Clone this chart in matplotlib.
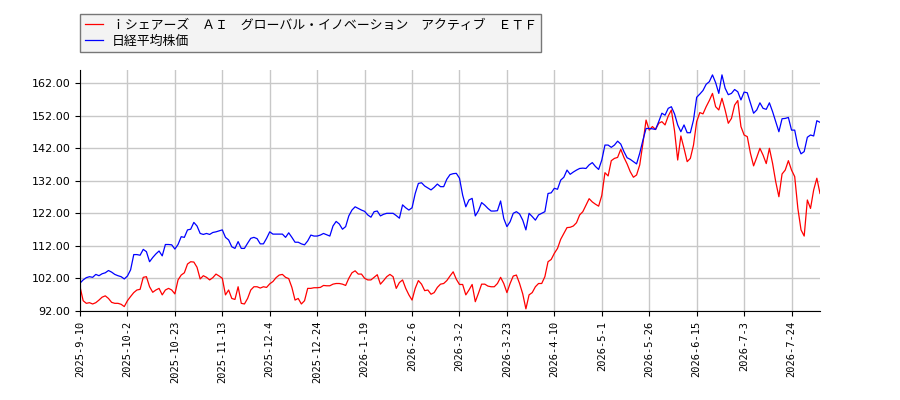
import matplotlib
matplotlib.use("Agg")
import matplotlib.pyplot as plt
from matplotlib.ticker import FormatStrFormatter

plt.rcParams['font.family'] = ['DejaVu Sans', 'Noto Sans CJK JP']

etf_name = "ｉシェアーズ　ＡＩ　グローバル・イノベーション　アクティブ　ＥＴＦ"
nikkei_name = "日経平均株価"

tick_labels = ["2025-9-10", "2025-10-2", "2025-10-23", "2025-11-13", "2025-12-4",
               "2025-12-24", "2026-1-19", "2026-2-6", "2026-3-2", "2026-3-23",
               "2026-4-10", "2026-5-1", "2026-5-26", "2026-6-15", "2026-7-3",
               "2026-7-24"]
tick_step = 15

# ETF (red), rebased
etf = [99.4, 95.1, 94.3, 94.5, 94.1, 94.5, 95.3, 96.2, 96.6, 95.8,
       94.6, 94.3, 94.3, 94.0, 93.3, 95.1, 96.4, 97.6, 98.4, 98.6,
       102.3, 102.5, 99.4, 97.7, 98.4, 98.9, 96.9, 98.4, 98.9, 98.4,
       97.2, 101.5, 103.0, 103.7, 106.4, 107.1, 107.0, 105.4, 101.8, 102.8,
       102.3, 101.5, 102.2, 103.3, 102.7, 102.0, 96.9, 98.4, 95.8, 95.5,
       99.4, 94.3, 94.1, 95.8, 98.4, 99.4, 99.4, 99.0, 99.4, 99.2,
       100.3, 101.0, 102.2, 103.0, 103.2, 102.3, 101.9, 99.2, 95.3, 95.8,
       94.1, 95.1, 98.9, 98.9, 99.1, 99.1, 99.2, 99.8, 99.7, 99.7,
       100.2, 100.4, 100.4, 100.2, 99.8, 102.0, 103.7, 104.3, 103.3, 103.3,
       102.0, 101.5, 101.5, 102.3, 103.1, 100.2, 101.3, 102.5, 103.2, 102.5,
       98.9, 100.7, 101.5, 98.9, 96.9, 95.3, 98.9, 101.3, 100.2, 98.2,
       98.4, 97.1, 97.6, 99.2, 100.2, 100.4, 101.3, 102.7, 104.0, 101.7,
       100.1, 100.1, 96.9, 98.4, 100.1, 94.8, 97.4, 100.2, 100.2, 99.6,
       99.4, 99.4, 100.4, 102.3, 100.4, 97.6, 100.4, 102.7, 103.0, 100.4,
       97.2, 92.6, 96.9, 97.6, 99.4, 100.4, 100.4, 102.5, 107.1, 107.8,
       109.7, 111.2, 114.0, 115.8, 117.6, 117.7, 118.1, 119.1, 121.5, 122.5,
       124.5, 126.5, 125.5, 124.8, 124.2, 127.5, 134.5, 133.5, 138.2, 138.9,
       139.2, 141.7, 139.2, 137.2, 134.8, 133.1, 133.8, 136.9, 143.5, 150.7,
       147.6, 148.7, 147.8, 149.7, 150.2, 149.2, 151.9, 153.8, 147.4, 138.4,
       145.8, 142.0, 137.9, 138.9, 143.0, 150.2, 153.0, 152.6, 154.8, 156.7,
       158.9, 154.8, 153.8, 157.4, 153.8, 149.7, 151.2, 155.3, 156.7, 148.7,
       146.1, 145.6, 140.5, 136.6, 139.2, 142.0, 139.9, 137.3, 142.0, 137.4,
       131.7, 127.1, 134.1, 135.3, 138.2, 135.3, 133.3, 123.5, 116.9, 115.0,
       126.1, 123.5, 129.2, 132.8, 128.1]

# Nikkei 225 (blue), rebased
nikkei = [100.5, 101.5, 102.2, 102.5, 102.3, 103.2, 102.8, 103.4, 103.7, 104.4,
          103.9, 103.2, 102.8, 102.5, 101.8, 102.7, 104.6, 109.3, 109.3, 109.1,
          110.9, 110.2, 107.1, 108.4, 109.5, 110.4, 108.9, 112.4, 112.4, 112.3,
          111.0, 112.4, 114.8, 114.6, 116.9, 117.1, 119.2, 118.1, 115.8, 115.5,
          115.8, 115.5, 116.1, 116.3, 116.6, 116.9, 114.6, 113.8, 111.7, 111.2,
          113.3, 111.2, 111.2, 112.8, 114.3, 114.6, 114.2, 112.6, 112.6, 114.3,
          116.3, 115.6, 115.6, 115.6, 115.6, 114.6, 116.0, 114.6, 113.1, 113.1,
          112.6, 112.3, 113.5, 115.3, 115.0, 115.0, 115.3, 115.8, 115.4, 115.0,
          118.1, 119.5, 118.7, 117.1, 117.9, 121.2, 123.0, 124.0, 123.5, 123.0,
          122.6, 121.5, 120.8, 122.5, 122.7, 121.2, 121.7, 122.0, 122.0, 122.0,
          121.3, 120.5, 124.6, 123.7, 123.0, 123.7, 128.1, 131.2, 131.4, 130.4,
          129.8, 129.2, 130.0, 131.0, 130.2, 130.2, 132.5, 133.9, 134.2, 134.3,
          132.8, 127.6, 124.0, 126.1, 126.6, 121.2, 122.8, 125.3, 124.5, 123.5,
          122.7, 122.7, 122.8, 125.8, 120.4, 117.9, 119.4, 122.0, 122.5, 121.8,
          119.9, 116.9, 122.0, 121.0, 119.9, 121.5, 122.0, 122.5, 128.1, 128.3,
          129.7, 129.4, 132.2, 133.1, 135.3, 134.0, 134.7, 135.3, 135.8, 135.9,
          135.8, 136.9, 137.6, 136.4, 135.5, 138.4, 143.0, 143.0, 142.3, 143.0,
          144.2, 143.3, 141.0, 139.1, 138.6, 137.9, 137.2, 140.5, 144.5, 148.1,
          148.1, 148.0, 147.8, 150.2, 152.8, 152.2, 154.3, 154.8, 152.6, 149.2,
          147.1, 149.2, 146.8, 146.8, 150.7, 157.7, 158.7, 159.8, 161.7, 162.5,
          164.6, 162.2, 158.9, 164.6, 160.5, 158.5, 158.9, 160.1, 159.4, 156.9,
          159.3, 159.1, 156.0, 152.8, 153.8, 156.0, 154.3, 154.0, 156.0, 153.3,
          150.2, 147.1, 151.1, 151.2, 151.5, 147.6, 147.6, 142.7, 140.3, 141.0,
          145.4, 146.1, 145.8, 150.5, 150.0]

x = list(range(len(etf)))

fig = plt.figure(figsize=(9, 4), dpi=100)
ax = fig.add_axes([80 / 900, 1 - 310.8 / 400, 740 / 900, 240.8 / 400])

ax.plot(x, etf, color='red', linewidth=0.9, label=etf_name)
ax.plot(x, nikkei, color='blue', linewidth=0.9, label=nikkei_name)

ax.set_xlim(0, len(etf) - 1)
ax.set_ylim(92, 166.1)
ax.set_yticks([92, 102, 112, 122, 132, 142, 152, 162])
ax.yaxis.set_major_formatter(FormatStrFormatter('%.2f'))
ax.set_xticks([k * tick_step for k in range(len(tick_labels))])
ax.set_xticklabels(tick_labels, rotation=90, family='DejaVu Sans Mono', fontsize=7.5)
ax.tick_params(axis='y', labelsize=8)
ax.grid(True, color='#c8c8c8', linewidth=1)
ax.set_axisbelow(True)
ax.spines['top'].set_visible(False)
ax.spines['right'].set_visible(False)

fig.legend(loc='upper left', bbox_to_anchor=(80 / 900, 1 - 14 / 400),
           prop={'family': ['Noto Sans CJK JP', 'DejaVu Sans'], 'size': 9.3},
           fancybox=False, edgecolor='#777777', facecolor='#f3f3f3', framealpha=1,
           handlelength=1.4, handletextpad=0.7, borderpad=0.35, labelspacing=0.25,
           borderaxespad=0)

fig.savefig('out.png', dpi=100)
